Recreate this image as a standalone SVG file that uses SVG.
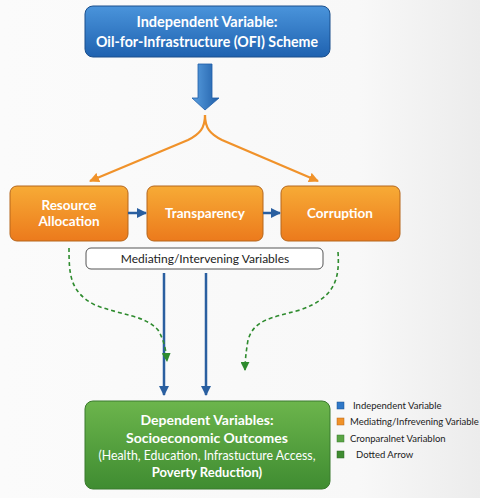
<svg xmlns="http://www.w3.org/2000/svg" width="480" height="498" viewBox="0 0 480 498">
<defs>
<linearGradient id="bg" x1="0" y1="0" x2="1" y2="0"><stop offset="0" stop-color="#fbfbfb"/><stop offset="0.75" stop-color="#f8f8f8"/><stop offset="1" stop-color="#ececec"/></linearGradient>
<linearGradient id="gBlue" x1="0" y1="0" x2="0" y2="1"><stop offset="0" stop-color="#4a94db"/><stop offset="1" stop-color="#1f62b0"/></linearGradient>
<linearGradient id="gOrange" x1="0" y1="0" x2="0" y2="1"><stop offset="0" stop-color="#f7ab36"/><stop offset="1" stop-color="#ec7a1c"/></linearGradient>
<linearGradient id="gGreen" x1="0" y1="0" x2="0" y2="1"><stop offset="0" stop-color="#6cb54c"/><stop offset="1" stop-color="#3f8c31"/></linearGradient>
<linearGradient id="gArrow" x1="0" y1="0" x2="1" y2="0"><stop offset="0" stop-color="#5a9fe0"/><stop offset="1" stop-color="#1f5ea8"/></linearGradient>
<marker id="mOrange" viewBox="0 0 10 10" refX="9" refY="5" markerWidth="10" markerHeight="10" markerUnits="userSpaceOnUse" orient="auto"><path d="M0,0 L10,5 L0,10 z" fill="#f0922a"/></marker>
<marker id="mBlue" viewBox="0 0 10 10" refX="9" refY="5" markerWidth="10" markerHeight="10" markerUnits="userSpaceOnUse" orient="auto"><path d="M0,0 L10,5 L0,10 z" fill="#2a5fa0"/></marker>
<marker id="mGreen" viewBox="0 0 10 10" refX="9" refY="5" markerWidth="9" markerHeight="9" markerUnits="userSpaceOnUse" orient="auto"><path d="M0,0 L10,5 L0,10 z" fill="#2e8b2e"/></marker>
</defs>
<style>
.t{font-family:Lato,"Open Sans","Liberation Sans",sans-serif;fill:#fff;text-anchor:middle}
.b{font-weight:bold}
.lg{font-family:Lato,"Open Sans","Liberation Sans",sans-serif;fill:#222;font-size:9.5px}
.ob{fill:url(#gOrange);stroke:#b5661c;stroke-width:1}
.oc{fill:none;stroke:#f0922a;stroke-width:2.2}
.bc{fill:none;stroke:#2a5fa0;stroke-width:2.5}
.gc{fill:none;stroke:#2e8b2e;stroke-width:1.6;stroke-dasharray:4,3}
</style>
<rect width="480" height="498" fill="url(#bg)"/>

<g id="independent">
<rect x="85" y="6" width="245" height="51" rx="8" fill="url(#gBlue)" stroke="#1b4f8c" stroke-width="1"/>
<text class="t b" x="207" y="27" font-size="14.5">Independent Variable:</text>
<text class="t b" x="207" y="47" font-size="14.5" textLength="222" lengthAdjust="spacingAndGlyphs">Oil-for-Infrastructure (OFI) Scheme</text>
</g>

<g id="resource">
<rect class="ob" x="10" y="186" width="118" height="55" rx="7"/>
<text class="t b" x="69" y="210" font-size="13.5">Resource</text>
<text class="t b" x="69" y="226" font-size="13.5">Allocation</text>
</g>
<g id="transparency">
<rect class="ob" x="147" y="186" width="116" height="55" rx="7"/>
<text class="t b" x="205" y="218" font-size="13.5">Transparency</text>
</g>
<g id="corruption">
<rect class="ob" x="281" y="186" width="119" height="55" rx="7"/>
<text class="t b" x="340" y="218" font-size="13.5">Corruption</text>
</g>

<g id="mediating">
<rect x="86" y="248" width="237" height="21" rx="5" fill="#fff" stroke="#555" stroke-width="1"/>
<text class="t" x="205" y="263" font-size="12" style="fill:#222">Mediating/Intervening Variables</text>
</g>

<g id="dependent">
<rect x="85" y="401" width="245" height="88" rx="8" fill="url(#gGreen)" stroke="#3b7a2e" stroke-width="1"/>
<text class="t b" x="207" y="425" font-size="14">Dependent Variables:</text>
<text class="t b" x="207" y="443" font-size="14">Socioeconomic Outcomes</text>
<text class="t" x="207" y="460" font-size="12.5" textLength="217" lengthAdjust="spacingAndGlyphs">(Health, Education, Infrastucture Access,</text>
<text class="t b" x="207" y="477" font-size="13">Poverty Reduction)</text>
</g>

<g id="legend">
<rect x="337" y="402" width="7" height="7" fill="#2f78c8" stroke="#1b4f8c" stroke-width="0.5"/>
<text class="lg" x="353" y="409">Independent Variable</text>
<rect x="337" y="418" width="7" height="7" fill="#f0922a" stroke="#b5661c" stroke-width="0.5"/>
<text class="lg" x="350" y="425">Mediating/Infrevening Variable</text>
<rect x="337" y="435" width="7" height="7" fill="#5aa545" stroke="#3b7a2e" stroke-width="0.5"/>
<text class="lg" x="350" y="442">Cronparalnet Variablon</text>
<rect x="337" y="451" width="7" height="7" fill="#3f8c31" stroke="#2e6a25" stroke-width="0.5"/>
<text class="lg" x="356" y="458">Dotted Arrow</text>
</g>

<g id="connectors">
<path d="M198,64 H212 V98 H219 L205,110 L192,98 H198 Z" fill="url(#gArrow)" stroke="#1f5ea8" stroke-width="0.8"/>
<path class="oc" d="M205,115 C205,128 200,134 188,140 L90,181" marker-end="url(#mOrange)"/>
<path class="oc" d="M205,115 C205,128 210,134 222,140 L318,181" marker-end="url(#mOrange)"/>
<path class="bc" d="M128,213 H146" marker-end="url(#mBlue)"/>
<path class="bc" d="M263,213 H280" marker-end="url(#mBlue)"/>
<path class="bc" d="M164,273 V395" marker-end="url(#mBlue)"/>
<path class="bc" d="M206,273 V395" marker-end="url(#mBlue)"/>
<path class="gc" d="M69,248 C69,275 70,292 95,305 C120,315 145,315 158,330 C164,340 166,350 167,361" marker-end="url(#mGreen)"/>
<path class="gc" d="M338,252 C340,280 334,298 300,310 C270,318 254,320 248,340 C246,352 245,362 245,370" marker-end="url(#mGreen)"/>
</g>
</svg>
